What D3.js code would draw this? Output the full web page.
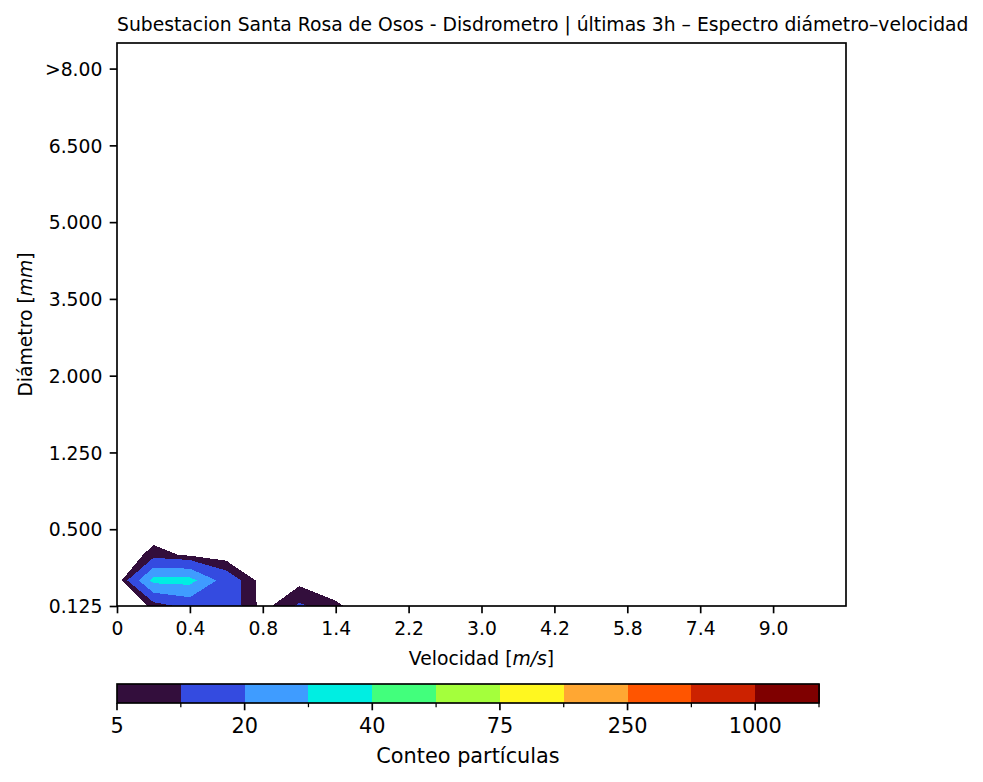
<!DOCTYPE html>
<html>
<head>
<meta charset="utf-8">
<script src="https://cdn.jsdelivr.net/npm/d3@7"></script>
<style>
  html, body { margin: 0; padding: 0; background: #ffffff; }
  svg { display: block; }
  text { font-family: "DejaVu Sans", sans-serif; fill: #000; }
</style>
</head>
<body>
<svg id="chart" width="983" height="782"></svg>
<script>
// ---------------- data ----------------
// velocity class lower bounds (m/s) and tick labels
const velocityTickIndex = [0, 2, 4, 6, 8, 10, 12, 14, 16, 18];
const velocityTickLabels = ["0", "0.4", "0.8", "1.4", "2.2", "3.0", "4.2", "5.8", "7.4", "9.0"];
// diameter classes (mm) and tick labels
const diameterTickIndex = [0, 3, 6, 9, 12, 15, 18, 21];
const diameterTickLabels = ["0.125", "0.500", "1.250", "2.000", "3.500", "5.000", "6.500", ">8.00"];
// grid size: velocity index 0..20, diameter index 0..22
const nVel = 21;
const nDiam = 23;
// particle counts per diameter row (row 0 = smallest diameter), velocity columns 0..7
const countsRow0 = [0, 6, 13, 15, 3, 11, 6.3, 0];
const countsRow1 = [1, 33, 33.5, 15, 2.5, 3.3, 0, 0];
const countsRow2 = [0, 7, 4, 2, 0, 0, 0, 0];
const countsRow3 = [0, 1.87, 0, 0, 0, 0, 0, 0];
// contour levels and colours
const levels = [5, 10, 20, 30, 40, 50, 75, 150, 250, 500, 1000, 2000];
const levelLabels = ["5", "", "20", "", "40", "", "75", "", "250", "", "1000", ""];
const levelColors = ["#330e3c", "#344be0", "#3f9cff", "#00eee2", "#42ff7c", "#a4ff3c",
                     "#fff720", "#ffa733", "#ff5500", "#cc2200", "#7f0000"];

// ---------------- layout ----------------
const svg = d3.select("#chart");
const plot = { left: 117, right: 846, top: 43, bottom: 606 };
const cbar = { left: 117, right: 819, top: 684, bottom: 703 };
const axisFont = 18.75, cbFont = 20.83;
const tickLen = 7.3, tickPad = 7.3, lw = 1.67;

const x = d3.scaleLinear().domain([0, nVel - 1]).range([plot.left, plot.right]);
const y = d3.scaleLinear().domain([0, nDiam - 1]).range([plot.bottom, plot.top]);

// build full grid (row-major, row 0 = bottom)
const rows = [countsRow0, countsRow1, countsRow2, countsRow3];
const values = new Array(nVel * nDiam).fill(0);
rows.forEach((r, j) => r.forEach((v, i) => { values[j * nVel + i] = v; }));

const contours = d3.contours().size([nVel, nDiam]).thresholds(levels.slice(0, -1))(values);

const proj = d3.geoTransform({
  point: function(px, py) { this.stream.point(x(px - 0.5), y(py - 0.5)); }
});
const path = d3.geoPath(proj);

svg.append("defs").append("clipPath").attr("id", "clip")
  .append("rect").attr("x", plot.left).attr("y", plot.top)
  .attr("width", plot.right - plot.left).attr("height", plot.bottom - plot.top);

svg.append("g").attr("clip-path", "url(#clip)")
  .selectAll("path").data(contours).join("path")
  .attr("d", path)
  .attr("fill", (d, i) => levelColors[i])
  .attr("fill-rule", "evenodd")
  .attr("shape-rendering", "crispEdges");

// frame
svg.append("rect").attr("x", plot.left).attr("y", plot.top)
  .attr("width", plot.right - plot.left).attr("height", plot.bottom - plot.top)
  .attr("fill", "none").attr("stroke", "#000").attr("stroke-width", lw);

// x axis
const xAxis = d3.axisBottom(x).tickValues(velocityTickIndex)
  .tickFormat((d, i) => velocityTickLabels[i]).tickSize(tickLen).tickPadding(tickPad);
const gx = svg.append("g").attr("transform", `translate(0,${plot.bottom})`).call(xAxis);
gx.select(".domain").remove();
gx.selectAll(".tick line").attr("stroke", "#000").attr("stroke-width", lw);
gx.selectAll(".tick text").attr("font-size", axisFont).attr("font-family", "DejaVu Sans")
  .attr("dy", "0.76em");

// y axis
const yAxis = d3.axisLeft(y).tickValues(diameterTickIndex)
  .tickFormat((d, i) => diameterTickLabels[i]).tickSize(tickLen).tickPadding(tickPad);
const gy = svg.append("g").attr("transform", `translate(${plot.left},0)`).call(yAxis);
gy.select(".domain").remove();
gy.selectAll(".tick line").attr("stroke", "#000").attr("stroke-width", lw);
gy.selectAll(".tick text").attr("font-size", axisFont).attr("font-family", "DejaVu Sans")
  .attr("dy", "0.36em");

// axis labels
const xl = svg.append("text").attr("x", (plot.left + plot.right) / 2).attr("y", 665)
  .attr("text-anchor", "middle").attr("font-size", axisFont);
xl.append("tspan").text("Velocidad [");
xl.append("tspan").attr("font-style", "italic").text("m/s");
xl.append("tspan").text("]");

const yl = svg.append("text")
  .attr("transform", `translate(32,${(plot.top + plot.bottom) / 2}) rotate(-90)`)
  .attr("text-anchor", "middle").attr("font-size", axisFont);
yl.append("tspan").text("Diámetro [");
yl.append("tspan").attr("font-style", "italic").text("mm");
yl.append("tspan").text("]");

// title
svg.append("text").attr("x", plot.left).attr("y", 30.5).attr("font-size", axisFont)
  .text("Subestacion Santa Rosa de Osos - Disdrometro | últimas 3h – Espectro diámetro–velocidad");

// colorbar
const nb = levelColors.length;
const cx = d3.scaleLinear().domain([0, nb]).range([cbar.left, cbar.right]);
svg.append("g").selectAll("rect").data(levelColors).join("rect")
  .attr("x", (d, i) => cx(i)).attr("y", cbar.top)
  .attr("width", (d, i) => cx(i + 1) - cx(i) + 0.5).attr("height", cbar.bottom - cbar.top)
  .attr("fill", d => d).attr("shape-rendering", "crispEdges");
svg.append("rect").attr("x", cbar.left).attr("y", cbar.top)
  .attr("width", cbar.right - cbar.left).attr("height", cbar.bottom - cbar.top)
  .attr("fill", "none").attr("stroke", "#000").attr("stroke-width", lw);

const cbTicks = svg.append("g").selectAll("g").data(levels).join("g")
  .attr("transform", (d, i) => `translate(${cx(i)},${cbar.bottom})`);
cbTicks.append("line").attr("y1", 0)
  .attr("y2", (d, i) => levelLabels[i] ? tickLen : 4.2)
  .attr("stroke", "#000").attr("stroke-width", (d, i) => levelLabels[i] ? lw : 1.25);
cbTicks.append("text").attr("y", tickLen + tickPad).attr("dy", "0.76em")
  .attr("text-anchor", "middle").attr("font-size", cbFont)
  .text((d, i) => levelLabels[i]);

svg.append("text").attr("x", (cbar.left + cbar.right) / 2).attr("y", 763)
  .attr("text-anchor", "middle").attr("font-size", cbFont).text("Conteo partículas");
</script>
</body>
</html>
